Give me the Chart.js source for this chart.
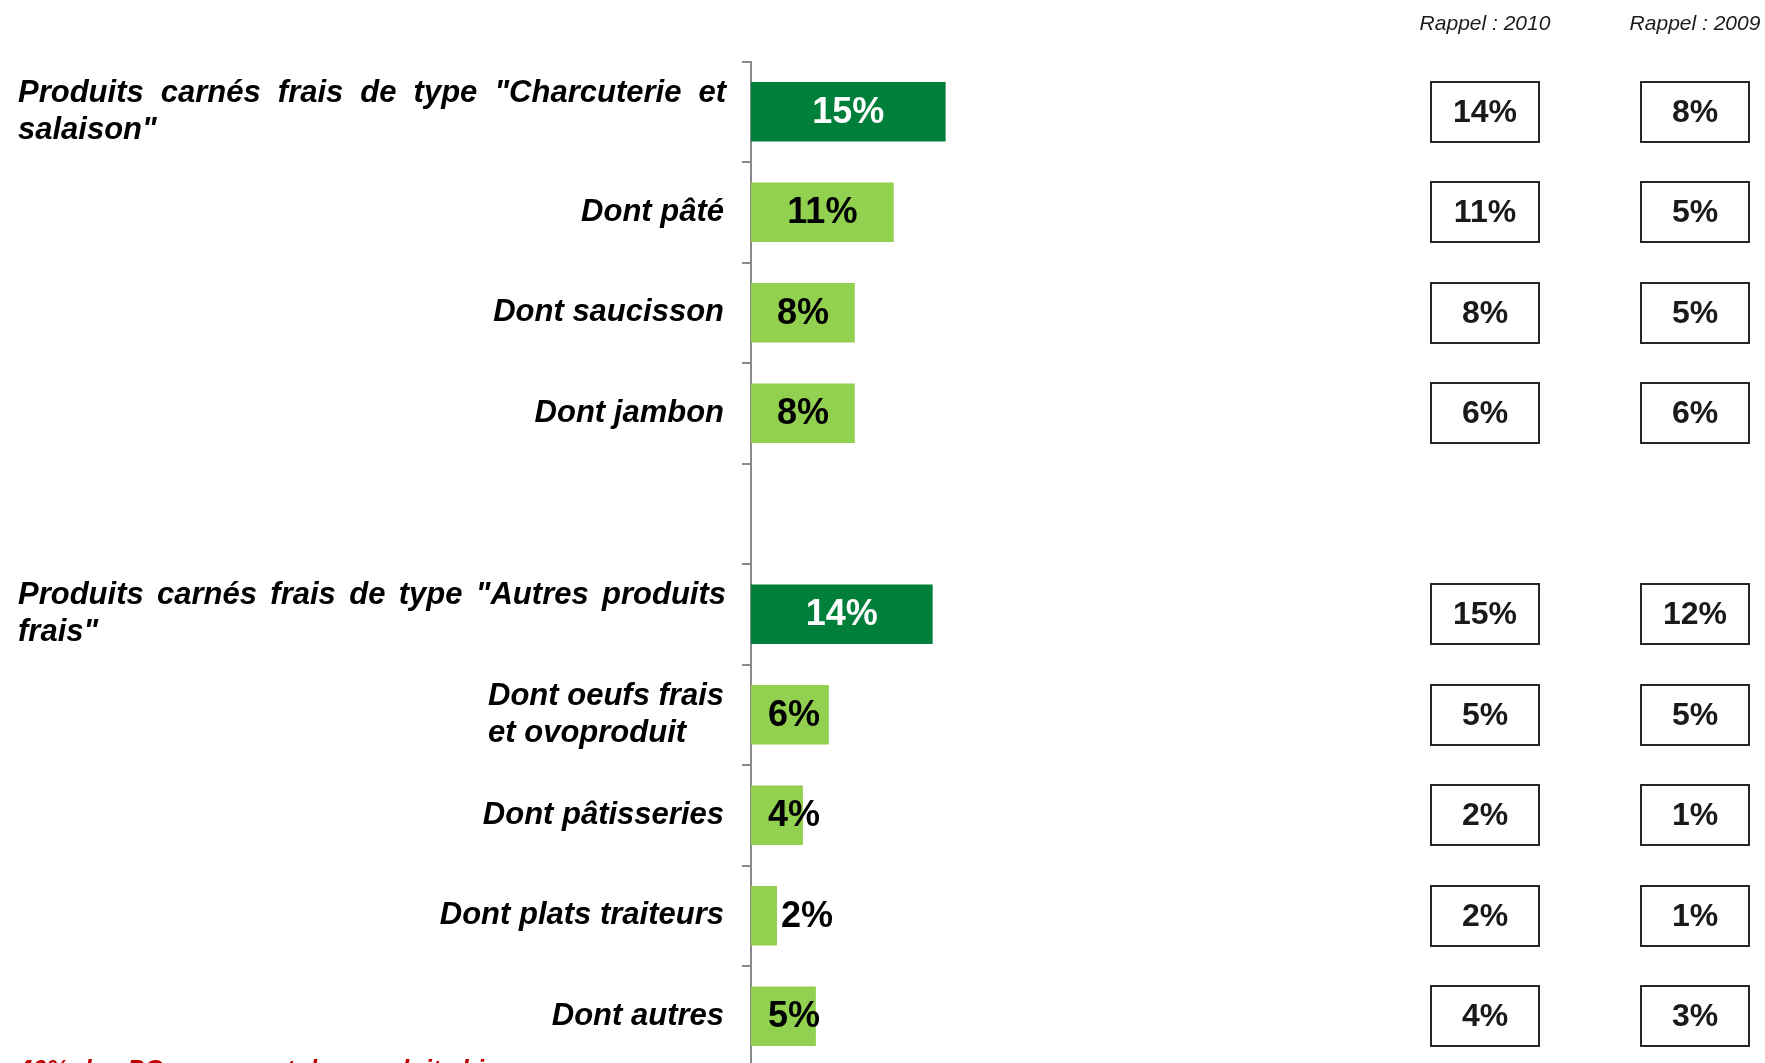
<!DOCTYPE html>
<html lang="fr">
<head>
<meta charset="utf-8">
<title>Produits carnés frais</title>
<script src="https://cdn.jsdelivr.net/npm/chart.js@4/dist/chart.umd.min.js"></script>
<style>
  html, body { margin: 0; padding: 0; width: 1765px; height: 1063px; overflow: hidden; background: #ffffff; }
  #wrap { position: relative; width: 1765px; height: 1110px; }
</style>
</head>
<body>
<div id="wrap"><canvas id="chart"></canvas></div>
<script>
// Categories (multi-line labels as arrays); the empty entry is the gap between the two groups
const categories = [
  ['Produits carnés frais de type "Charcuterie et', 'salaison"'],
  'Dont pâté',
  'Dont saucisson',
  'Dont jambon',
  '',
  ['Produits carnés frais de type "Autres produits', 'frais"'],
  ['Dont oeufs frais', 'et ovoproduit'],
  'Dont pâtisseries',
  'Dont plats traiteurs',
  'Dont autres'
];
// Group totals (dark bars, justified labels)
const totalRows = [true, false, false, false, false, true, false, false, false, false];
// Current shares (%)
const values = [15, 11, 8, 8, null, 14, 6, 4, 2, 5];
// Reminder columns (%)
const rappel2010 = [14, 11, 8, 6, null, 15, 5, 2, 2, 4];
const rappel2009 = [8, 5, 5, 6, null, 12, 5, 1, 1, 3];
const rappelHeaders = ['Rappel : 2010', 'Rappel : 2009'];
const footnote = '40% des PC proposent des produits bio';

const FONT = '"Liberation Sans", Arial, Helvetica, sans-serif';
const DARK_GREEN = '#007f3a';
const LIGHT_GREEN = '#92d050';
const AXIS_GREY = '#8a8a8a';

function drawJustified(ctx, line, x0, x1, y) {
  const words = line.split(' ');
  const widths = words.map(w => ctx.measureText(w).width);
  const total = widths.reduce((a, b) => a + b, 0);
  const gap = words.length > 1 ? (x1 - x0 - total) / (words.length - 1) : 0;
  let x = x0;
  ctx.textAlign = 'left';
  words.forEach((w, i) => {
    ctx.fillText(w, x, y);
    x += widths[i] + gap;
  });
}

const sideText = {
  id: 'sideText',
  afterDraw(chart) {
    const ctx = chart.ctx;
    const yScale = chart.scales.y;
    ctx.save();

    // Category labels, right-aligned next to the axis
    ctx.fillStyle = '#000000';
    ctx.font = 'italic bold 31px ' + FONT;
    ctx.textBaseline = 'middle';
    const labelRight = 724;
    const lineH = 37;
    categories.forEach((lab, i) => {
      const lines = Array.isArray(lab) ? lab : [lab];
      if (!lines[0]) return;
      const cy = yScale.getPixelForValue(i);
      const y0 = cy - (lines.length - 1) * lineH / 2;
      if (totalRows[i]) {
        lines.forEach((ln, k) => {
          const yy = y0 + k * lineH;
          if (k < lines.length - 1) {
            drawJustified(ctx, ln, 18, 726, yy);
          } else {
            ctx.textAlign = 'left';
            ctx.fillText(ln, 18, yy);
          }
        });
      } else {
        const w = Math.max(...lines.map(l => ctx.measureText(l).width));
        ctx.textAlign = 'left';
        lines.forEach((ln, k) => ctx.fillText(ln, labelRight - w, y0 + k * lineH));
      }
    });

    // Value labels on the bars
    const meta = chart.getDatasetMeta(0);
    ctx.font = 'bold 36px ' + FONT;
    meta.data.forEach((bar, i) => {
      const v = values[i];
      if (v === null || v === undefined) return;
      const txt = v + '%';
      const len = bar.x - bar.base;
      ctx.fillStyle = totalRows[i] ? '#ffffff' : '#000000';
      if (len < 40) {
        ctx.textAlign = 'left';
        ctx.fillText(txt, bar.x + 4, bar.y + 1);
      } else {
        ctx.textAlign = 'center';
        ctx.fillText(txt, Math.max((bar.x + bar.base) / 2, bar.base + 43), bar.y + 1);
      }
    });

    // Reminder columns: headers and boxed values
    const cols = [
      { x: 1485, vals: rappel2010, head: rappelHeaders[0] },
      { x: 1695, vals: rappel2009, head: rappelHeaders[1] }
    ];
    const boxW = 108, boxH = 60;
    cols.forEach(col => {
      ctx.font = 'italic 21px ' + FONT;
      ctx.fillStyle = '#1a1a1a';
      ctx.textAlign = 'center';
      ctx.textBaseline = 'middle';
      ctx.fillText(col.head, col.x, 24);
      col.vals.forEach((v, i) => {
        if (v === null || v === undefined) return;
        const cy = yScale.getPixelForValue(i);
        ctx.strokeStyle = '#262626';
        ctx.lineWidth = 2;
        ctx.strokeRect(Math.round(col.x - boxW / 2), Math.round(cy - boxH / 2), boxW, boxH);
        ctx.font = 'bold 32px ' + FONT;
        ctx.fillStyle = '#1a1a1a';
        ctx.fillText(v + '%', col.x, cy + 1);
      });
    });

    // Footnote
    ctx.font = 'italic bold 25.5px ' + FONT;
    ctx.fillStyle = '#c00000';
    ctx.textAlign = 'left';
    ctx.textBaseline = 'alphabetic';
    ctx.fillText(footnote, 18, 1078);

    ctx.restore();
  }
};

new Chart(document.getElementById('chart'), {
  type: 'bar',
  data: {
    labels: categories,
    datasets: [{
      data: values,
      backgroundColor: totalRows.map(t => t ? DARK_GREEN : LIGHT_GREEN),
      borderWidth: 0,
      categoryPercentage: 1,
      barPercentage: 0.593
    }]
  },
  options: {
    indexAxis: 'y',
    responsive: true,
    maintainAspectRatio: false,
    animation: false,
    events: [],
    layout: { padding: { left: 742, right: 495, top: 61.5, bottom: 43.5 } },
    plugins: {
      legend: { display: false },
      tooltip: { enabled: false }
    },
    scales: {
      x: { display: false, min: 0, max: 40 },
      y: {
        grid: { offset: true, drawOnChartArea: false, drawTicks: true, tickLength: 9, color: AXIS_GREY, lineWidth: 2 },
        border: { display: true, color: AXIS_GREY, width: 2 },
        ticks: { display: false }
      }
    }
  },
  plugins: [sideText]
});
</script>
</body>
</html>
